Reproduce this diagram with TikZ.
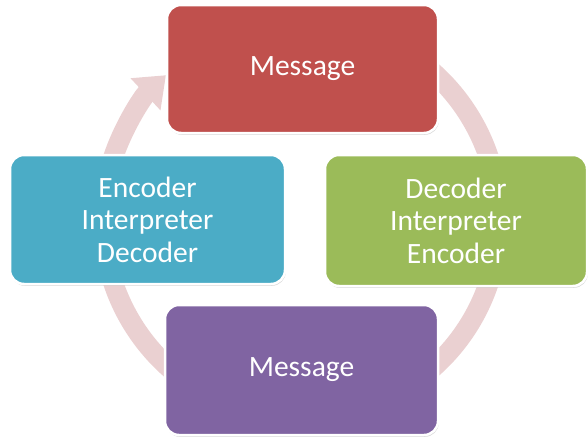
\documentclass[tikz,border=0pt]{standalone}
\usepackage{fontspec}
\setmainfont{Carlito}
\usetikzlibrary{arrows.meta,shadows}
\definecolor{ringpink}{RGB}{234,208,209}
\definecolor{boxred}{RGB}{192,80,77}
\definecolor{boxblue}{RGB}{75,172,198}
\definecolor{boxgreen}{RGB}{155,187,89}
\definecolor{boxpurple}{RGB}{128,100,162}
\begin{document}
\begin{tikzpicture}[x=1pt,y=-1pt,
  cyclebox/.style={rounded corners=14pt, draw=white, line width=2.5pt, text=white,
    align=center, inner sep=0pt, font=\fontsize{29.5}{32.5}\selectfont,
    drop shadow={shadow xshift=0.8pt, shadow yshift=-1.8pt, opacity=0.25, fill=black!60}},
  ringarrow/.style={draw=ringpink, line width=20pt, -{Triangle[width=42pt,length=28pt]}}
]
\useasboundingbox (0,0) rectangle (588,439);
\coordinate (c) at (301,220);
\draw[ringarrow] (c) ++(-70:198) arc[start angle=-70, end angle=227, radius=198];
\node[cyclebox, fill=boxred, minimum width=271pt, minimum height=128pt] (top) at (302.5,69) {Message};
\node[cyclebox, fill=boxblue, minimum width=275pt, minimum height=129pt] (left) at (147.5,219.5) {Encoder\\Interpreter\\Decoder};
\node[cyclebox, fill=boxgreen, minimum width=262pt, minimum height=131pt] (right) at (456,220.5) {Decoder\\Interpreter\\Encoder};
\node[cyclebox, fill=boxpurple, minimum width=273pt, minimum height=130pt] (bottom) at (301.5,370) {Message};
\end{tikzpicture}
\end{document}
